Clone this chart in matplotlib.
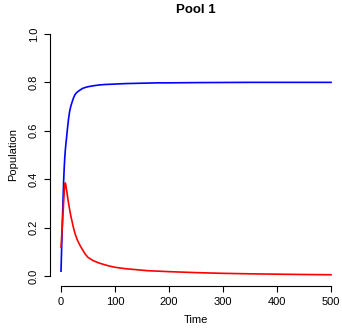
import matplotlib
matplotlib.use("Agg")
import matplotlib.pyplot as plt

# Data
time = [0, 1, 2, 3, 4, 5, 6, 7, 8, 9, 10, 12, 14, 16, 18, 20, 23, 26, 30, 35,
        40, 45, 50, 60, 70, 80, 90, 100, 120, 140, 160, 180, 200, 250, 300,
        350, 400, 450, 500]
blue_pop = [0.02, 0.1, 0.18, 0.26, 0.33, 0.4, 0.45, 0.49, 0.52, 0.545, 0.565,
            0.61, 0.65, 0.68, 0.70, 0.715, 0.735, 0.75, 0.76, 0.768,
            0.775, 0.779, 0.782, 0.786, 0.789, 0.791, 0.792, 0.793, 0.795,
            0.796, 0.797, 0.798, 0.798, 0.799, 0.7995, 0.8, 0.8, 0.8, 0.8]
red_pop = [0.12, 0.155, 0.19, 0.23, 0.27, 0.31, 0.35, 0.38, 0.385, 0.375, 0.36,
           0.33, 0.3, 0.275, 0.25, 0.23, 0.2, 0.175, 0.15, 0.127,
           0.108, 0.09, 0.077, 0.063, 0.054, 0.047, 0.041, 0.036, 0.03,
           0.026, 0.022, 0.02, 0.018, 0.014, 0.011, 0.009, 0.0075, 0.0062, 0.0052]

xticks = [0, 100, 200, 300, 400, 500]
yticks = [0.0, 0.2, 0.4, 0.6, 0.8, 1.0]

plt.rcParams['font.family'] = ['Liberation Sans', 'DejaVu Sans']

fig = plt.figure(figsize=(3.42, 3.28), dpi=100)
ax = fig.add_axes([0.1468, 0.129, 0.8526, 0.797])

ax.plot(time, blue_pop, color="blue", lw=1.2)
ax.plot(time, red_pop, color="red", lw=1.2)

ax.set_xlim(-20, 520)
ax.set_ylim(-0.04, 1.04)

for s in ["top", "right"]:
    ax.spines[s].set_visible(False)
ax.spines["left"].set_bounds(0, 1)
ax.spines["bottom"].set_bounds(0, 500)
ax.spines["left"].set_linewidth(0.8)
ax.spines["bottom"].set_linewidth(0.8)

ax.set_xticks(xticks)
ax.set_xticklabels([str(v) for v in xticks], fontsize=8)
ax.set_yticks(yticks)
ax.set_yticklabels(["%.1f" % v for v in yticks], fontsize=8, rotation=90, va="center")
ax.tick_params(direction="out", length=4, width=0.8, pad=4)

ax.set_xlabel("Time", fontsize=8, labelpad=6)
ax.set_ylabel("Population", fontsize=8, labelpad=8)
ax.set_title("Pool 1", fontsize=9.5, fontweight="bold", pad=8)

fig.savefig("out.png", dpi=100)
